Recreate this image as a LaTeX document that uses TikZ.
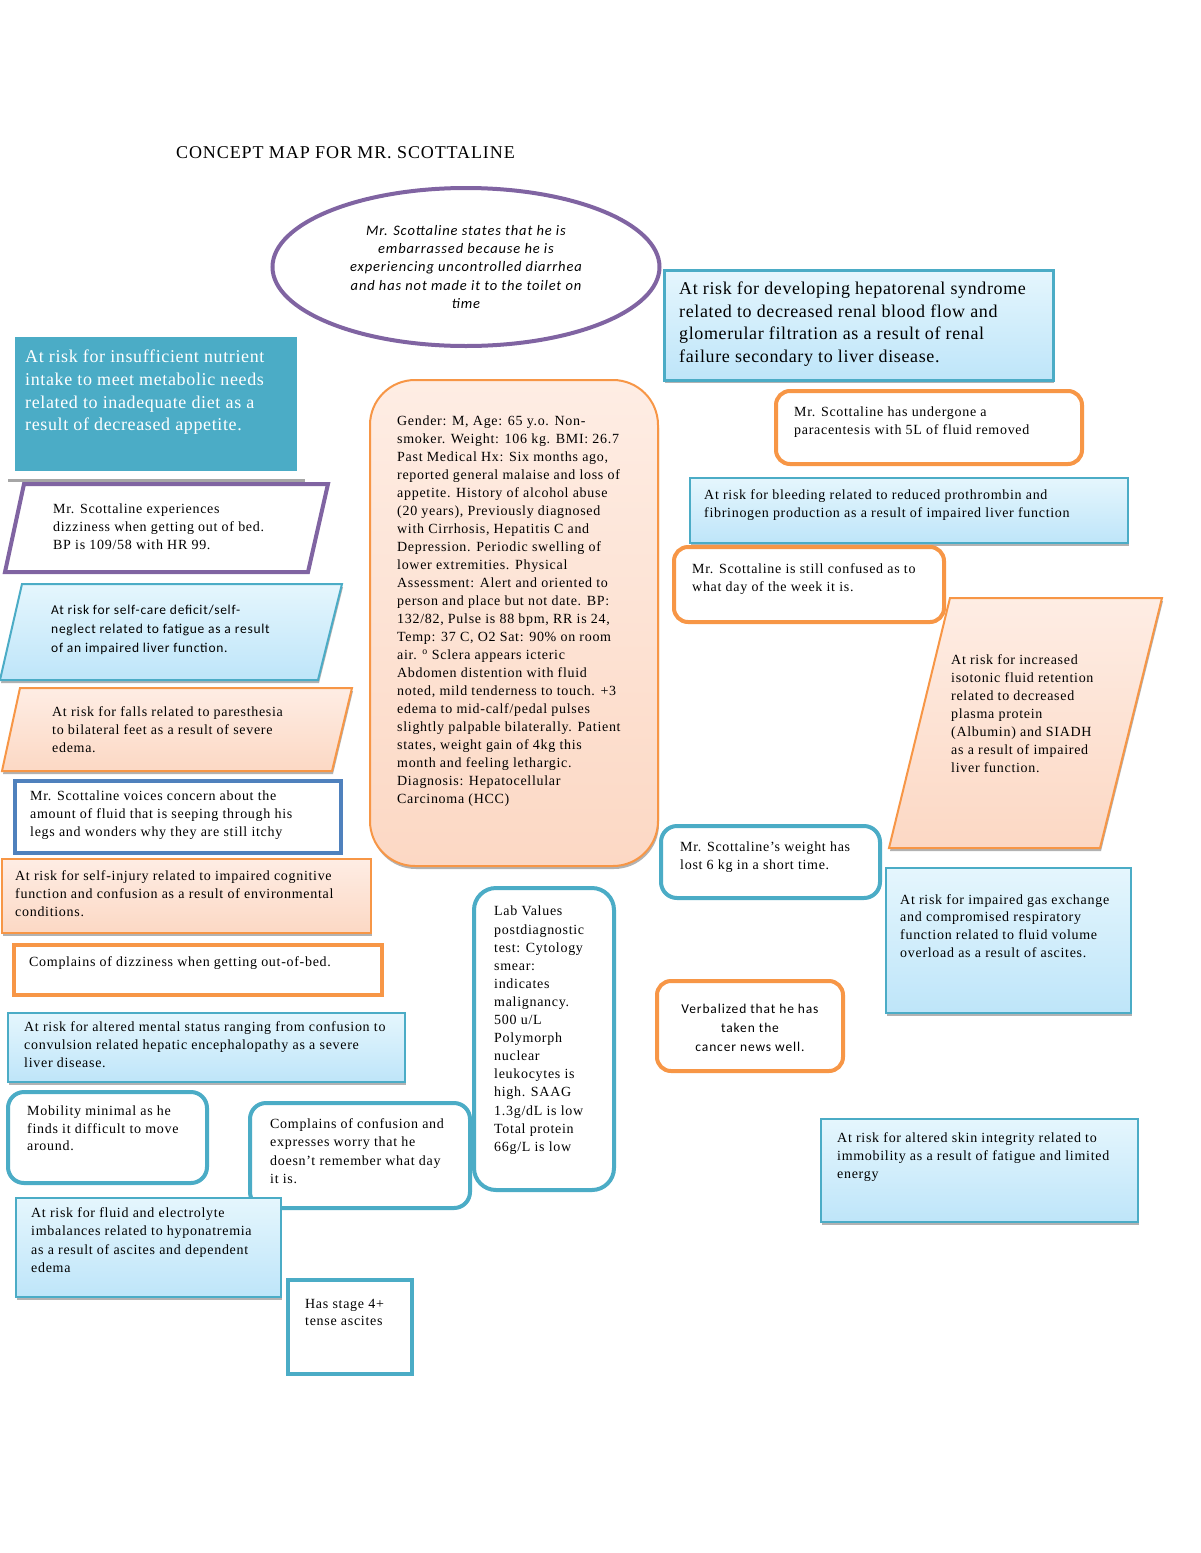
\documentclass[tikz,border=0pt]{standalone}
\usepackage{fontspec}
\setmainfont{Liberation Serif}[LetterSpace=5]
\newfontfamily\sansc{Carlito}[LetterSpace=5.5]
\usetikzlibrary{shapes.geometric,shadows}
\definecolor{aqua}{HTML}{4BACC6}
\definecolor{orng}{HTML}{F79646}
\definecolor{purp}{HTML}{8064A2}
\definecolor{blu}{HTML}{4F81BD}
\definecolor{lbtop}{HTML}{E5F6FD}
\definecolor{lbbot}{HTML}{BEE5F9}
\definecolor{lotop}{HTML}{FEEDE4}
\definecolor{lobot}{HTML}{FCD8C4}
\tikzset{
  box/.style={anchor=north west, inner sep=0pt, outer sep=0pt},
  shad/.style={drop shadow={shadow xshift=1pt, shadow yshift=-3pt, fill=black!30, opacity=1}},
  lbbox/.style={box, draw=aqua, line width=2pt, top color=lbtop, bottom color=lbbot, shad},
  lobox/.style={box, draw=orng, line width=2pt, top color=lotop, bottom color=lobot, shad},
  obox/.style={box, draw=orng, line width=4pt, fill=white, rounded corners=14pt},
  abox/.style={box, draw=aqua, line width=4pt, fill=white, rounded corners=16pt},
  txt/.style={anchor=north west, inner sep=0pt, align=left, font=\fontsize{14}{18}\selectfont},
  bigtxt/.style={anchor=north west, inner sep=0pt, align=left, font=\fontsize{18}{22.6}\selectfont\addfontfeature{LetterSpace=3.5}},
  stxt/.style={anchor=north west, inner sep=0pt, align=left, font=\sansc\fontsize{13.5}{19}\selectfont},
}
\begin{document}
\begin{tikzpicture}[x=1pt,y=-1pt]
\useasboundingbox (0,0) rectangle (1200,1553);
\fill[white] (0,0) rectangle (1200,1553);

% title
\node[anchor=north west, inner sep=0pt, font=\fontsize{18}{20}\selectfont] (title) at (176,146) {CONCEPT MAP FOR MR. SCOTTALINE};

% ellipse
\node[ellipse, draw=purp, line width=4pt, fill=white, minimum width=387pt, minimum height=158pt, align=center,
      font=\sansc\itshape\fontsize{14.5}{18.3}\selectfont\addfontfeature{LetterSpace=6}] (ell) at (466,267)
  {Mr. Scottaline states that he is\\ embarrassed because he is\\ experiencing uncontrolled diarrhea\\ and has not made it to the toilet on\\ time};

% left column
\node[box, fill=aqua, minimum width=282pt, minimum height=134pt] (nutr) at (15,337) {};
\node[bigtxt, text=white] (nutrt) at (25,350) {At risk for insufficient nutrient\\ intake to meet metabolic needs\\ related to inadequate diet as a\\ result of decreased appetite.};
\draw[black!35, line width=3pt] (8,480) -- (305,480);

\draw[purp, line width=4pt, fill=white] (24,484) coordinate (p1a) -- (328,484) -- (308,572) -- (5,572) -- cycle;
\node[txt] (p1t) at (53,504) {Mr. Scottaline experiences\\ dizziness when getting out of bed.\\ BP is 109/58 with HR 99.};

\draw[aqua, line width=2pt, top color=lbtop, bottom color=lbbot, shad] (22,584) coordinate (p2a) -- (342,584) -- (318,680) -- (0,680) -- cycle;
\node[stxt] (p2t) at (51,605) {At risk for self-care deficit/self-\\ neglect related to fatigue as a result\\ of an impaired liver function.};

\draw[orng, line width=2pt, top color=lotop, bottom color=lobot, shad] (20,688) coordinate (p3a) -- (352,688) -- (332,771) -- (2,771) -- cycle;
\node[txt] (p3t) at (52,706) {At risk for falls related to paresthesia\\ to bilateral feet as a result of severe\\ edema.};

\node[box, draw=blu, line width=4pt, fill=white, minimum width=326pt, minimum height=72pt] (voice) at (15,781) {};
\node[txt] (voicet) at (30,791) {Mr. Scottaline voices concern about the\\ amount of fluid that is seeping through his\\ legs and wonders why they are still itchy};

\node[lobox, minimum width=369pt, minimum height=74pt] (inj) at (2,859) {};
\node[txt] (injt) at (15,870) {At risk for self-injury related to impaired cognitive\\ function and confusion as a result of environmental\\ conditions.};

\node[box, draw=orng, line width=4pt, fill=white, minimum width=368pt, minimum height=50pt] (dizz) at (14,945) {};
\node[txt] (dizzt) at (29,956) {Complains of dizziness when getting out-of-bed.};

\node[lbbox, minimum width=397pt, minimum height=69pt] (ment) at (8,1013) {};
\node[txt] (mentt) at (24,1021) {At risk for altered mental status ranging from confusion to\\ convulsion related hepatic encephalopathy as a severe\\ liver disease.};

\node[abox, minimum width=199pt, minimum height=91pt] (mob) at (8,1092) {};
\node[txt, font=\fontsize{14}{17.5}\selectfont] (mobt) at (27,1106) {Mobility minimal as he\\ finds it difficult to move\\ around.};

\node[abox, minimum width=220pt, minimum height=105pt] (conf) at (250,1103) {};
\node[txt, font=\fontsize{14}{18.5}\selectfont] (conft) at (270,1118) {Complains of confusion and\\ expresses worry that he\\ doesn’t remember what day\\ it is.};

\node[lbbox, minimum width=265pt, minimum height=99pt] (flu) at (16,1198) {};
\node[txt, font=\fontsize{14}{18.5}\selectfont] (flut) at (31,1207) {At risk for fluid and electrolyte\\ imbalances related to hyponatremia\\ as a result of ascites and dependent\\ edema};

\node[box, draw=aqua, line width=4pt, fill=white, minimum width=124pt, minimum height=94pt] (asc) at (288,1280) {};
\node[txt, font=\fontsize{14}{17.5}\selectfont] (asct) at (305,1299) {Has stage 4+\\ tense ascites};

% central
\node[box, draw=orng, line width=2pt, top color=lotop, bottom color=lobot, rounded corners=45pt, shad, minimum width=288pt, minimum height=486pt] (cent) at (370,380) {};
\node[txt] (centt) at (397,416) {Gender: M, Age: 65 y.o. Non-\\ smoker. Weight: 106 kg. BMI: 26.7\\ Past Medical Hx: Six months ago,\\ reported general malaise and loss of\\ appetite. History of alcohol abuse\\ (20 years), Previously diagnosed\\ with Cirrhosis, Hepatitis C and\\ Depression. Periodic swelling of\\ lower extremities. Physical\\ Assessment: Alert and oriented to\\ person and place but not date. BP:\\ 132/82, Pulse is 88 bpm, RR is 24,\\ Temp: 37 C, O2 Sat: 90\% on room\\ air. \textsuperscript{o} Sclera appears icteric\\ Abdomen distention with fluid\\ noted, mild tenderness to touch. +3\\ edema to mid-calf/pedal pulses\\ slightly palpable bilaterally. Patient\\ states, weight gain of 4kg this\\ month and feeling lethargic.\\ Diagnosis: Hepatocellular\\ Carcinoma (HCC)};

\node[abox, rounded corners=22pt, minimum width=140pt, minimum height=302pt] (lab) at (474,888) {};
\node[txt, font=\fontsize{14}{18.1}\selectfont] (labt) at (494,906) {Lab Values\\ postdiagnostic\\ test: Cytology\\ smear:\\ indicates\\ malignancy.\\ 500 u/L\\ Polymorph\\ nuclear\\ leukocytes is\\ high. SAAG\\ 1.3g/dL is low\\ Total protein\\ 66g/L is low};

% right column
\node[box, draw=aqua, line width=3pt, top color=lbtop, bottom color=lbbot, shad, minimum width=389pt, minimum height=110pt] (hep) at (664,270) {};
\node[bigtxt, font=\fontsize{18}{22.4}\selectfont\addfontfeature{LetterSpace=3.5}] (hept) at (679,282) {At risk for developing hepatorenal syndrome\\ related to decreased renal blood flow and\\ glomerular filtration as a result of renal\\ failure secondary to liver disease.};

\node[obox, minimum width=306pt, minimum height=73pt] (para) at (776,391) {};
\node[txt, font=\fontsize{14}{17.5}\selectfont] (parat) at (794,407) {Mr. Scottaline has undergone a\\ paracentesis with 5L of fluid removed};

\node[lbbox, minimum width=438pt, minimum height=65pt] (bleed) at (690,478) {};
\node[txt] (bleedt) at (704,489) {At risk for bleeding related to reduced prothrombin and\\ fibrinogen production as a result of impaired liver function};

\node[obox, minimum width=270pt, minimum height=75pt] (still) at (674,547) {};
\node[txt] (stillt) at (692,563) {Mr. Scottaline is still confused as to\\ what day of the week it is.};

\draw[orng, line width=2pt, top color=lotop, bottom color=lobot, shad] (950,598) coordinate (p4a) -- (1162,598) -- (1100,848) -- (889,848) -- cycle;
\node[txt] (p4t) at (951,654) {At risk for increased\\ isotonic fluid retention\\ related to decreased\\ plasma protein\\ (Albumin) and SIADH\\ as a result of impaired\\ liver function.};

\node[abox, minimum width=219pt, minimum height=72pt] (wt) at (661,826) {};
\node[txt] (wtt) at (680,842) {Mr. Scottaline’s weight has\\ lost 6 kg in a short time.};

\node[lbbox, minimum width=245pt, minimum height=145pt] (gas) at (886,868) {};
\node[txt, font=\fontsize{14}{17.7}\selectfont] (gast) at (900,894) {At risk for impaired gas exchange\\ and compromised respiratory\\ function related to fluid volume\\ overload as a result of ascites.};

\node[obox, minimum width=186pt, minimum height=90pt] (verb) at (657,981) {};
\node[anchor=center, inner sep=0pt, align=center, font=\sansc\fontsize{13.5}{19}\selectfont\addfontfeature{LetterSpace=6.5}] (verbt) at (750,1028) {Verbalized that he has\\ taken the\\ cancer news well.};

\node[lbbox, minimum width=317pt, minimum height=103pt] (skin) at (821,1119) {};
\node[txt] (skint) at (837,1132) {At risk for altered skin integrity related to\\ immobility as a result of fatigue and limited\\ energy};

\end{tikzpicture}
\end{document}
